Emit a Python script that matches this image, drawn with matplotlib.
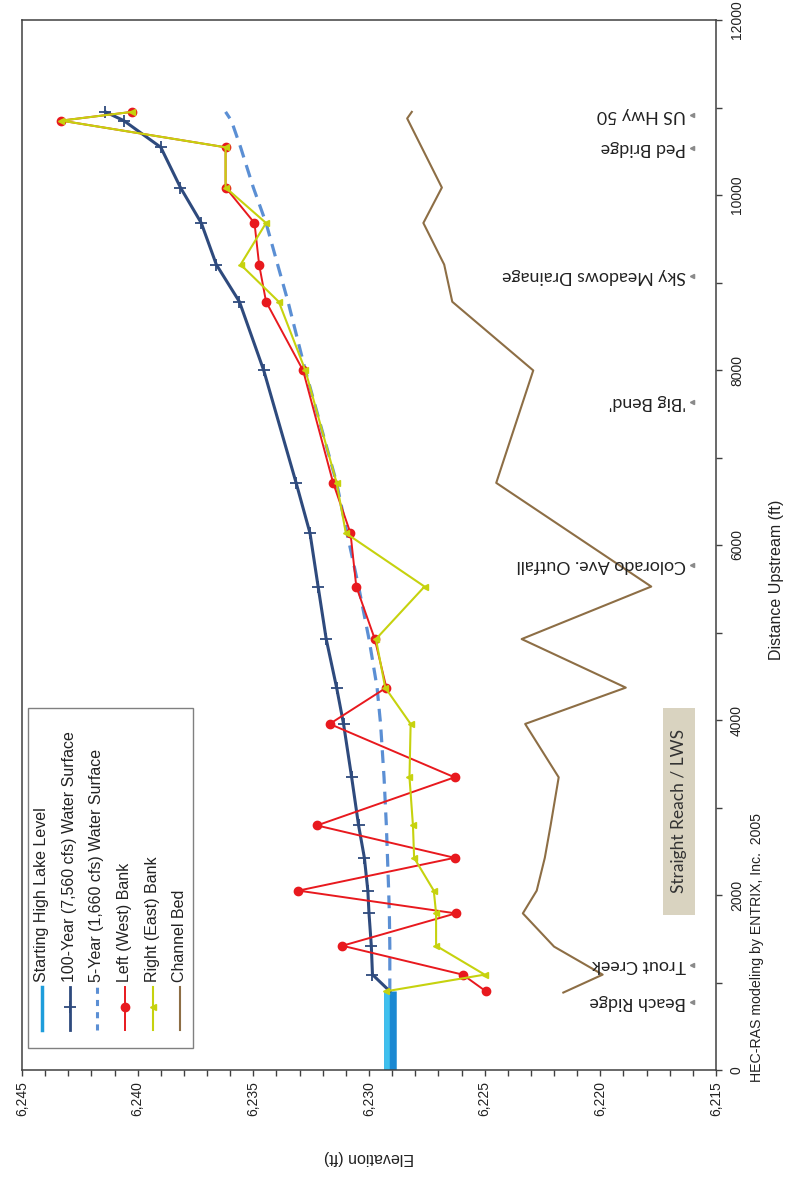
import matplotlib
matplotlib.use("Agg")
import matplotlib.pyplot as plt
import matplotlib.patheffects as pe
import matplotlib.transforms as mtransforms
from matplotlib.lines import Line2D
from matplotlib.patches import Rectangle
from matplotlib.ticker import MultipleLocator, FuncFormatter

plt.rcParams['font.family'] = ['Liberation Sans', 'DejaVu Sans']

# cross-section stations, ft upstream
station = [900, 1090, 1420, 1790, 2050, 2425, 2795, 3345, 3955, 4370, 4925,
           5525, 6135, 6710, 7995, 8780, 9205, 9680, 10085, 10545, 10850, 10950]

wse_100yr = [6229.1, 6229.85, 6229.9, 6230.0, 6230.05, 6230.2, 6230.45, 6230.75,
             6231.1, 6231.4, 6231.85, 6232.2, 6232.55, 6233.15, 6234.55, 6235.6,
             6236.6, 6237.25, 6238.15, 6239.0, 6240.6, 6241.4]
wse_5yr = [6229.1, 6229.1, 6229.1, 6229.12, 6229.15, 6229.2, 6229.25, 6229.35,
           6229.5, 6229.65, 6230.0, 6230.45, 6230.95, 6231.4, 6232.75, 6233.5,
           6233.95, 6234.45, 6235.0, 6235.55, 6235.95, 6236.2]
left_bank = [6224.95, 6225.95, 6231.15, 6226.25, 6233.05, 6226.3, 6232.25, 6226.3,
             6231.7, 6229.25, 6229.75, 6230.55, 6230.8, 6231.55, 6232.85, 6234.45,
             6234.75, 6234.95, 6236.2, 6236.2, 6243.3, 6240.25]
right_bank = [6229.25, 6225.0, 6227.1, 6227.1, 6227.2, 6228.05, 6228.1, 6228.25,
              6228.2, 6229.3, 6229.7, 6227.6, 6231.0, 6231.4, 6232.75, 6233.9,
              6235.55, 6234.45, 6236.2, 6236.2, 6243.3, 6240.25]

bed_station = [885, 1090, 1410, 1790, 2050, 2425, 2795, 3345, 3955, 4370, 4925,
               5525, 6710, 7995, 8780, 9205, 9680, 10085, 10875, 10950]
bed_elev = [6221.6, 6219.9, 6222.0, 6223.35, 6222.75, 6222.4, 6222.15, 6221.8,
            6223.25, 6218.9, 6223.4, 6217.8, 6224.5, 6222.9, 6226.4, 6226.75,
            6227.65, 6226.85, 6228.35, 6228.15]

lake_station = [0, 900]
lake_elev = [6229.1, 6229.1]

landmarks = ["Beach Ridge", "Trout Creek", "Colorado Ave. Outfall", "'Big Bend'",
             "Sky Meadows Drainage", "Ped Bridge", "US Hwy 50"]
landmark_station = [780, 1200, 5770, 7640, 9070, 10540, 10910]

reach_label = "Straight Reach / LWS"
reach_span = [1770, 4140]

series_names = ["Starting High Lake Level", "100-Year (7,560 cfs) Water Surface",
                "5-Year (1,660 cfs) Water Surface", "Left (West) Bank",
                "Right (East) Bank", "Channel Bed"]

C_LAKE = '#1e9ddb'
C_100 = '#2e4a7d'
C_5 = '#5b8fd4'
C_LEFT = '#e8191e'
C_RIGHT = '#c6d20e'
C_BED = '#8d6e45'

W, H = 789, 1177
fig = plt.figure(figsize=(W / 100, H / 100), dpi=100)


def fx(x):
    return x / W


def fy(y):
    return 1 - y / H


# the chart is laid out sideways: elevation runs along the bottom (reversed),
# distance upstream runs up the right side
ax = fig.add_axes([fx(22), fy(1070), fx(716 - 22), (1070 - 20) / H])

# lake level bar, blue with a lighter cyan edge
ax.plot(lake_elev, lake_station, color=C_LAKE, lw=9, solid_capstyle='butt', zorder=2,
        path_effects=[pe.Stroke(linewidth=9, foreground='#1a88d2', capstyle='butt'),
                      pe.Stroke(offset=(-1.8, 0), linewidth=4, foreground='#3fc0ee',
                                capstyle='butt')])
ax.plot(wse_5yr, station, color=C_5, lw=2.3, dashes=(4, 2.5), zorder=3)
ax.plot(wse_100yr, station, color=C_100, lw=2.2, marker='+', ms=8, mew=1.3,
        markevery=list(range(1, len(station))), zorder=4)
ax.plot(left_bank, station, color=C_LEFT, lw=1.4, marker='o', ms=6, zorder=5)
ax.plot(right_bank, station, color=C_RIGHT, lw=1.5, marker='<', ms=5, zorder=6)
ax.plot(bed_elev, bed_station, color=C_BED, lw=1.5, zorder=3)

ax.set_xlim(6245, 6215)
ax.set_ylim(0, 12000)

ax.xaxis.set_major_locator(MultipleLocator(5))
ax.xaxis.set_minor_locator(MultipleLocator(1))
ax.xaxis.set_major_formatter(FuncFormatter(lambda v, _: f'{v:,.0f}'))
ax.yaxis.tick_right()
ax.yaxis.set_major_locator(MultipleLocator(2000))
ax.yaxis.set_minor_locator(MultipleLocator(1000))
ax.yaxis.set_major_formatter(FuncFormatter(lambda v, _: f'{v:.0f}'))

ax.tick_params(axis='both', which='both', direction='out', length=4, width=1,
               color='#404040', labelsize=10, labelcolor='#222222')
ax.tick_params(axis='x', labelrotation=90, pad=4)
ax.tick_params(axis='y', labelrotation=90, pad=6)
for lab in ax.get_yticklabels():
    lab.set_va('center')
for sp in ax.spines.values():
    sp.set_color('#404040')
    sp.set_linewidth(1.1)

# landmark labels along the low-elevation edge
trans = mtransforms.blended_transform_factory(ax.transAxes, ax.transData)
ax.plot([0.966] * len(landmark_station), landmark_station, linestyle='none',
        marker='<', ms=3, color='#8a8a8a', transform=trans, zorder=6)
for name, s in zip(landmarks, landmark_station):
    ax.text(0.957, s, name, transform=trans, rotation=180, rotation_mode='anchor',
            ha='left', va='center', fontsize=12.8, family=['Lato', 'DejaVu Sans'],
            color='#222222', zorder=6)

ax.add_patch(Rectangle((0.9236, reach_span[0]), 0.046, reach_span[1] - reach_span[0],
                       transform=trans, facecolor='#d9d3c0', edgecolor='none', zorder=1))
ax.text(0.9466, sum(reach_span) / 2, reach_label, transform=trans, rotation=90,
        ha='center', va='center', fontsize=12.5, family=['Lato', 'DejaVu Sans'],
        color='#333333', zorder=2)

# legend, stacked sideways to match the layout
fig.add_artist(Rectangle((fx(28), fy(1048)), fx(193 - 28), (1048 - 708) / H,
                         transform=fig.transFigure, facecolor='white',
                         edgecolor='#808080', lw=1.0))
handles = [
    dict(color=C_LAKE, lw=2.5),
    dict(color=C_100, lw=2.0, marker='+', ms=8, mew=1.3),
    dict(color=C_5, lw=2.2, dashes=(2, 2)),
    dict(color=C_LEFT, lw=1.4, marker='o', ms=6),
    dict(color=C_RIGHT, lw=1.5, marker='<', ms=5),
    dict(color=C_BED, lw=1.5),
]
cols = [42, 70, 97, 125, 153, 180]
for x, name, style in zip(cols, series_names, handles):
    marker = style.pop('marker', None)
    ms = style.pop('ms', None)
    mew = style.pop('mew', 1)
    fig.add_artist(Line2D([fx(x), fx(x)], [fy(1030), fy(987)],
                          transform=fig.transFigure, **style))
    if marker:
        fig.add_artist(Line2D([fx(x)], [fy(1007)], transform=fig.transFigure,
                              linestyle='none', marker=marker, ms=ms, mew=mew,
                              color=style['color']))
    fig.text(fx(x), fy(982), name, rotation=90, ha='center', va='bottom',
             fontsize=11.5, color='#222222')

fig.text(fx(369), fy(1158), 'Elevation (ft)', rotation=180, ha='center',
         va='center', fontsize=11.5, color='#222222')
fig.text(fx(777), fy(580), 'Distance Upstream (ft)', rotation=90, ha='center',
         va='center', fontsize=11.5, color='#222222')
fig.text(fx(757), fy(948), 'HEC-RAS modeling by ENTRIX, Inc.  2005', rotation=90,
         ha='center', va='center', fontsize=10.2, color='#222222')

fig.savefig('out.png', dpi=100)
